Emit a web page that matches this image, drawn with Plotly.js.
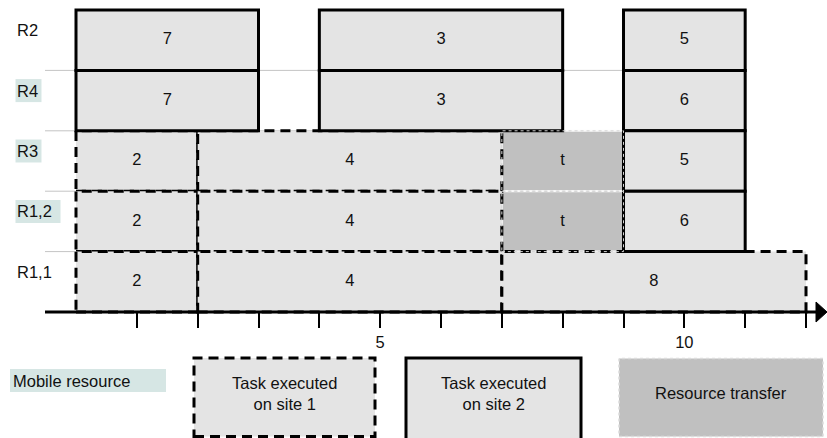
<!DOCTYPE html>
<html>
<head>
<meta charset="utf-8">
<script src="https://cdn.plot.ly/plotly-3.0.1.min.js"></script>
<style>html,body{margin:0;padding:0;background:#fff;}#chart{width:827px;height:438px;}</style>
</head>
<body>
<div id="chart"></div>
<script>
// ---- data ----
const rowNames = ['R1,1', 'R1,2', 'R3', 'R4', 'R2'];            // bottom to top
const highlightedRows = ['R1,2', 'R3', 'R4'];
const taskRow   = ['R2','R2','R2', 'R4','R4','R4', 'R3','R3','R3','R3', 'R1,2','R1,2','R1,2','R1,2', 'R1,1','R1,1','R1,1'];
const taskStart = [0, 4, 9,  0, 4, 9,  0, 2, 7, 9,  0, 2, 7, 9,  0, 2, 7];
const taskEnd   = [3, 8, 11, 3, 8, 11, 2, 7, 9, 11, 2, 7, 9, 11, 2, 7, 12];
const taskLabel = ['7','3','5', '7','3','6', '2','4','t','5', '2','4','t','6', '2','4','8'];
const taskKind  = ['site2','site2','site2', 'site2','site2','site2',
                   'site1','site1','transfer','site2', 'site1','site1','transfer','site2',
                   'site1','site1','site1'];
const tickVals = [1, 2, 3, 4, 5, 6, 7, 8, 9, 10, 11, 12];
const tickText = ['', '', '', '', '5', '', '', '', '', '10', '', ''];
const legendMobile = 'Mobile resource';
const legendSite1 = 'Task executed<br>on site 1';
const legendSite2 = 'Task executed<br>on site 2';
const legendTransfer = 'Resource transfer';

// ---- styling / layout ----
const W = 827, H = 438;
const FONT = 'Liberation Sans, Arial, sans-serif';
const FS = 16.5;
const LIGHT = '#e4e4e4', DARK = '#c0c0c0', TEAL = '#d6e6e4';
const xRange = [-1.2493, 12.345];
const yRange = [-2.086, 5.1656];
const pxX = (W) / (xRange[1] - xRange[0]);
const pxY = (H) / (yRange[1] - yRange[0]);
const DASH = '10px,6px';

const rowIdx = r => rowNames.indexOf(r);
const shapes = [];
const px = p => p / W;            // pixel -> paper x
const py = p => (H - p) / H;      // pixel -> paper y

// row grid lines
for (let i = 1; i < rowNames.length; i++) {
  shapes.push({type: 'line', xref: 'x', yref: 'y', x0: xRange[0] + 45 / pxX, x1: 9, y0: i, y1: i,
               line: {color: '#c4c4c4', width: 1}, layer: 'below'});
}
// row label backgrounds
const rowBgWidth = {'R4': 26, 'R3': 26, 'R1,2': 45};
highlightedRows.forEach(r => {
  const yc = rowIdx(r) + 0.5;
  shapes.push({type: 'rect', xref: 'paper', yref: 'y', x0: px(15.5), x1: px(15.5 + rowBgWidth[r]),
               y0: yc + (10 - 11.5) / pxY, y1: yc + (10 + 11.5) / pxY,
               fillcolor: TEAL, line: {width: 0}, layer: 'below'});
});

// bars in drawing order: transfer, site1 (dashed), site2 (solid)
['transfer', 'site1', 'site2'].forEach(kind => {
  taskKind.forEach((k, i) => {
    if (k !== kind) return;
    const r = rowIdx(taskRow[i]);
    let line;
    if (k === 'site1') line = {color: '#000', width: 3, dash: DASH};
    else if (k === 'site2') line = {color: '#000', width: 3};
    else line = {color: '#fafafa', width: 2};
    shapes.push({type: 'rect', xref: 'x', yref: 'y', x0: taskStart[i], x1: taskEnd[i], y0: r, y1: r + 1,
                 fillcolor: k === 'transfer' ? DARK : LIGHT, line: line, layer: 'below'});
  });
});
// faint dotted outline around transfer blocks
taskKind.forEach((k, i) => {
  if (k !== 'transfer') return;
  const r = rowIdx(taskRow[i]);
  shapes.push({type: 'rect', xref: 'x', yref: 'y', x0: taskStart[i], x1: taskEnd[i], y0: r, y1: r + 1,
               fillcolor: 'rgba(0,0,0,0)', line: {color: '#d4d4d4', width: 1, dash: 'dot'}, layer: 'below'});
});

// axis line with arrow
const axisEnd = xRange[1] - 10 / pxX;
shapes.push({type: 'line', xref: 'x', yref: 'y', x0: xRange[0] + 45 / pxX, x1: axisEnd, y0: 0, y1: 0,
             line: {color: '#000', width: 3}});
const bx = xRange[1] - 11 / pxX, hh = 10 / pxY;
shapes.push({type: 'path', xref: 'x', yref: 'y',
             path: `M ${bx},${hh} L ${xRange[1]},0 L ${bx},${-hh} Z`,
             fillcolor: '#000', line: {color: '#000', width: 1}});

// legend boxes
shapes.push({type: 'rect', xref: 'paper', yref: 'paper', x0: px(10), x1: px(166), y0: py(392), y1: py(369),
             fillcolor: TEAL, line: {width: 0}, layer: 'below'});
shapes.push({type: 'rect', xref: 'paper', yref: 'paper', x0: px(194), x1: px(375), y0: py(436.5), y1: py(358),
             fillcolor: LIGHT, line: {color: '#000', width: 3, dash: DASH}, layer: 'below'});
shapes.push({type: 'rect', xref: 'paper', yref: 'paper', x0: px(406), x1: px(581), y0: py(441), y1: py(358),
             fillcolor: LIGHT, line: {color: '#000', width: 3}, layer: 'below'});
shapes.push({type: 'rect', xref: 'paper', yref: 'paper', x0: px(619), x1: px(823), y0: py(436.5), y1: py(358.5),
             fillcolor: DARK, line: {color: '#dcdcdc', width: 1.5, dash: 'dot'}, layer: 'below'});

const annotations = [];
rowNames.forEach(r => {
  annotations.push({xref: 'paper', yref: 'y', x: px(14.5), y: rowIdx(r) + 0.5, yshift: 10,
                    xanchor: 'left', yanchor: 'middle', text: r, showarrow: false,
                    font: {family: FONT, size: FS, color: '#111'}});
});
annotations.push({xref: 'paper', yref: 'paper', x: px(11), y: py(380.5), xanchor: 'left', yanchor: 'middle',
                  text: legendMobile, showarrow: false, font: {family: FONT, size: FS, color: '#111'}});
annotations.push({xref: 'paper', yref: 'paper', x: px(284.5), y: py(393.5), xanchor: 'center', yanchor: 'middle',
                  text: legendSite1, showarrow: false, font: {family: FONT, size: FS, color: '#111'}});
annotations.push({xref: 'paper', yref: 'paper', x: px(493.5), y: py(393.5), xanchor: 'center', yanchor: 'middle',
                  text: legendSite2, showarrow: false, font: {family: FONT, size: FS, color: '#111'}});
annotations.push({xref: 'paper', yref: 'paper', x: px(721), y: py(393), xanchor: 'center', yanchor: 'middle',
                  text: legendTransfer, showarrow: false, font: {family: FONT, size: FS, color: '#111'}});

const labelTrace = {
  type: 'scatter', mode: 'text',
  x: taskStart.map((s, i) => (s + taskEnd[i]) / 2),
  y: taskRow.map(r => rowIdx(r) + 0.5),
  text: taskLabel,
  textposition: 'middle center',
  textfont: {family: FONT, size: FS, color: '#111'},
  hoverinfo: 'skip', showlegend: false, cliponaxis: false
};

const layout = {
  width: W, height: H,
  margin: {l: 0, r: 0, t: 0, b: 0},
  paper_bgcolor: '#fff', plot_bgcolor: 'rgba(0,0,0,0)',
  showlegend: false,
  font: {family: FONT, size: FS, color: '#111'},
  xaxis: {range: xRange, showgrid: false, zeroline: false, showline: false,
          anchor: 'free', position: 126 / H,
          tickmode: 'array', tickvals: tickVals, ticktext: tickText,
          ticks: 'outside', ticklen: 15, tickwidth: 2, tickcolor: '#000',
          tickfont: {family: FONT, size: FS, color: '#111'}, fixedrange: true},
  yaxis: {range: yRange, showgrid: false, zeroline: false, showline: false,
          showticklabels: false, ticks: '', fixedrange: true},
  shapes: shapes,
  annotations: annotations
};

Plotly.newPlot('chart', [labelTrace], layout, {displayModeBar: false, staticPlot: true});
</script>
</body>
</html>
